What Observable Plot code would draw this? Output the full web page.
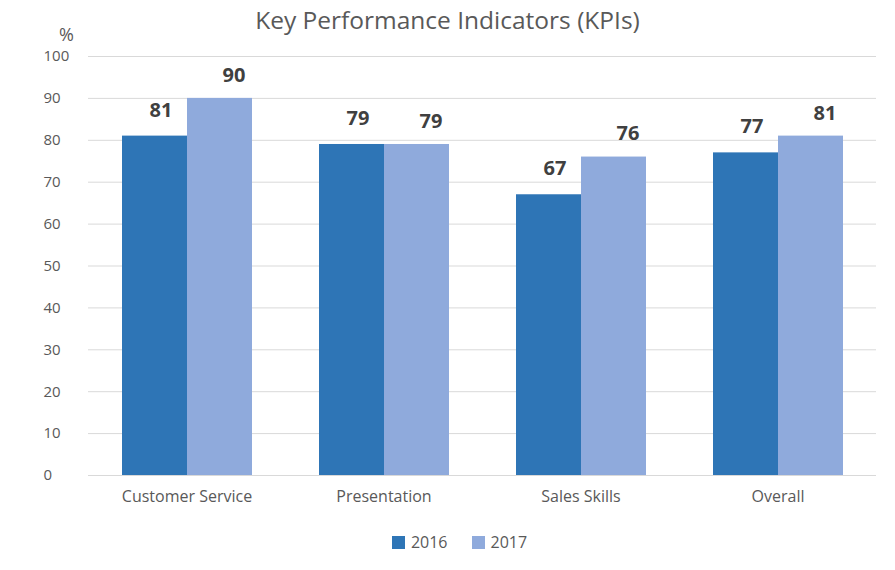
<!DOCTYPE html>
<html>
<head>
<meta charset="utf-8">
<script src="https://cdn.jsdelivr.net/npm/d3@7"></script>
<script src="https://cdn.jsdelivr.net/npm/@observablehq/plot@0.6"></script>
<style>
  body { margin: 0; background: #fff; font-family: "Open Sans", sans-serif; }
  #wrap { position: relative; width: 895px; height: 570px; }
  #title { position: absolute; top: 2px; left: 0; width: 895px; height: 36px; line-height: 36px; text-align: center; font-size: 24.5px; color: #595959; }
  #unit { position: absolute; left: 59px; top: 25px; font-size: 18px; line-height: 18px; color: #595959; }
  #chart { position: absolute; top: 36px; left: 0; }
  #legend { position: absolute; top: 531px; left: 12px; width: 895px; display: flex; justify-content: center; gap: 24px; font-size: 16px; color: #595959; }
  .item { display: flex; align-items: center; gap: 6px; }
  .sw { width: 13px; height: 13px; display: inline-block; }
</style>
</head>
<body>
<div id="wrap">
  <div id="title">Key Performance Indicators (KPIs)</div>
  <div id="unit">%</div>
  <div id="chart"></div>
  <div id="legend"></div>
</div>
<script>
const categories = ["Customer Service", "Presentation", "Sales Skills", "Overall"];
const years = ["2016", "2017"];
const values2016 = [81, 79, 67, 77];
const values2017 = [90, 79, 76, 81];
const yTicks = [0, 10, 20, 30, 40, 50, 60, 70, 80, 90, 100];
const colors = ["#2E75B6", "#8FAADC"];

const data = [];
categories.forEach((c, i) => {
  data.push({category: c, year: years[0], value: values2016[i]});
  data.push({category: c, year: years[1], value: values2017[i]});
});

const chart = Plot.plot({
  width: 895,
  height: 480,
  marginLeft: 88,
  marginRight: 19,
  marginTop: 20,
  marginBottom: 41,
  style: {fontFamily: "Open Sans, sans-serif", color: "#595959", background: "transparent"},
  fx: {domain: categories, padding: 0, label: null},
  x: {domain: years, paddingInner: 0, paddingOuter: 0.515, axis: null},
  y: {domain: [0, 100], axis: null},
  color: {domain: years, range: colors},
  marks: [
    Plot.gridY(yTicks, {stroke: "#d9d9d9", strokeOpacity: 1, strokeWidth: 1}),
    Plot.axisY(yTicks, {tickSize: 0, textAnchor: "start", dx: -36, fontSize: 15, fill: "#595959", label: null}),
    Plot.axisFx({anchor: "bottom", tickSize: 0, tickPadding: 15, fontSize: 16, fill: "#595959", label: null}),
    Plot.barY(data, {fx: "category", x: "year", y: "value", fill: "year", inset: 0}),
    Plot.text(data.filter(d => d.year === years[0]), {fx: "category", x: "year", y: "value", text: d => String(d.value), dy: -26, dx: 6, fontSize: 20, fontWeight: "bold", fill: "#404040"}),
    Plot.text(data.filter(d => d.year === years[1]), {fx: "category", x: "year", y: "value", text: d => String(d.value), dy: -23, dx: 14, fontSize: 20, fontWeight: "bold", fill: "#404040"})
  ]
});
document.getElementById("chart").appendChild(chart);

const legend = document.getElementById("legend");
years.forEach((y, i) => {
  const item = document.createElement("div");
  item.className = "item";
  const sw = document.createElement("span");
  sw.className = "sw";
  sw.style.background = colors[i];
  const t = document.createElement("span");
  t.textContent = y;
  item.appendChild(sw);
  item.appendChild(t);
  legend.appendChild(item);
});
</script>
</body>
</html>
